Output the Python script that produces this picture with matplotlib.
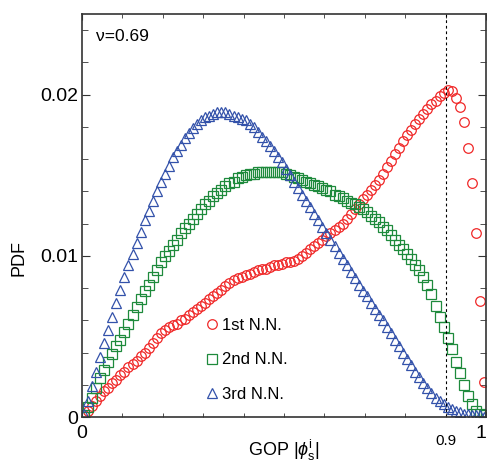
import matplotlib
matplotlib.use('Agg')
import matplotlib.pyplot as plt
import numpy as np
from matplotlib import rcParams

rcParams['font.family'] = ['Liberation Sans', 'DejaVu Sans']
rcParams['mathtext.fontset'] = 'custom'
rcParams['mathtext.rm'] = 'Liberation Sans'
rcParams['mathtext.it'] = 'Liberation Sans:italic'

# bin centres of the order-parameter histogram
gop = np.arange(100) * 0.01 + 0.005

pdf_1st = [
    0.0001, 0.0004, 0.0007, 0.0010, 0.0013, 0.0016, 0.0018, 0.0021, 0.0023, 0.0026,
    0.0028, 0.0031, 0.0033, 0.0035, 0.0038, 0.0040, 0.0043, 0.0046, 0.0049, 0.0052,
    0.0054, 0.0056, 0.0057, 0.0058, 0.0060, 0.0061, 0.0063, 0.0065, 0.0067, 0.0069,
    0.0071, 0.0073, 0.0075, 0.0077, 0.0079, 0.0081, 0.0083, 0.0085, 0.0086, 0.0087,
    0.0088, 0.0089, 0.0090, 0.0091, 0.0092, 0.0092, 0.0093, 0.0094, 0.0094, 0.0095,
    0.0096, 0.0096, 0.0097, 0.0098, 0.0100, 0.0102, 0.0104, 0.0106, 0.0108, 0.0110,
    0.0112, 0.0114, 0.0116, 0.0118, 0.0120, 0.0123, 0.0126, 0.0129, 0.0132, 0.0135,
    0.0138, 0.0141, 0.0144, 0.0147, 0.0151, 0.0155, 0.0159, 0.0163, 0.0167, 0.0171,
    0.0175, 0.0178, 0.0182, 0.0185, 0.0188, 0.0191, 0.0194, 0.0196, 0.0199, 0.0201,
    0.0203, 0.0202, 0.0198, 0.0192, 0.0183, 0.0167, 0.0145, 0.0114, 0.0072, 0.0022,
]

pdf_2nd = [
    0.0001, 0.0006, 0.0012, 0.0018, 0.0024, 0.0029, 0.0034, 0.0039, 0.0044, 0.0048,
    0.0053, 0.0058, 0.0063, 0.0068, 0.0073, 0.0078, 0.0082, 0.0087, 0.0091, 0.0096,
    0.0100, 0.0103, 0.0107, 0.0110, 0.0114, 0.0117, 0.0120, 0.0123, 0.0126, 0.0129,
    0.0132, 0.0134, 0.0137, 0.0139, 0.0141, 0.0143, 0.0145, 0.0146, 0.0148, 0.0149,
    0.0150, 0.0151, 0.0151, 0.0152, 0.0152, 0.0152, 0.0152, 0.0152, 0.0152, 0.0152,
    0.0151, 0.0150, 0.0149, 0.0148, 0.0147, 0.0146, 0.0145, 0.0144, 0.0143, 0.0142,
    0.0141, 0.0140, 0.0138, 0.0137, 0.0136, 0.0134, 0.0133, 0.0132, 0.0130, 0.0129,
    0.0127, 0.0125, 0.0123, 0.0121, 0.0118, 0.0116, 0.0113, 0.0110, 0.0107, 0.0104,
    0.0101, 0.0098, 0.0094, 0.0091, 0.0087, 0.0082, 0.0076, 0.0069, 0.0062, 0.0056,
    0.0049, 0.0042, 0.0034, 0.0027, 0.0020, 0.0013, 0.0008, 0.0004, 0.0002, 0.0001,
]

pdf_3rd = [
    0.0002, 0.0010, 0.0019, 0.0028, 0.0037, 0.0046, 0.0054, 0.0062, 0.0071, 0.0079,
    0.0087, 0.0094, 0.0101, 0.0108, 0.0115, 0.0122, 0.0128, 0.0134, 0.0140, 0.0146,
    0.0151, 0.0156, 0.0161, 0.0165, 0.0169, 0.0173, 0.0176, 0.0179, 0.0182, 0.0184,
    0.0186, 0.0187, 0.0188, 0.0189, 0.0189, 0.0189, 0.0188, 0.0187, 0.0186, 0.0185,
    0.0184, 0.0182, 0.0180, 0.0177, 0.0174, 0.0171, 0.0168, 0.0165, 0.0161, 0.0158,
    0.0154, 0.0150, 0.0146, 0.0142, 0.0138, 0.0134, 0.0130, 0.0126, 0.0122, 0.0118,
    0.0114, 0.0110, 0.0106, 0.0102, 0.0098, 0.0094, 0.0090, 0.0086, 0.0082, 0.0078,
    0.0075, 0.0071, 0.0067, 0.0063, 0.0060, 0.0056, 0.0052, 0.0048, 0.0044, 0.0040,
    0.0036, 0.0032, 0.0028, 0.0025, 0.0021, 0.0018, 0.0015, 0.0012, 0.0010, 0.0008,
    0.0006, 0.0005, 0.0004, 0.0003, 0.0002, 0.0002, 0.0001, 0.0001, 0.0001, 0.0000,
]

labels = ['1st N.N.', '2nd N.N.', '3rd N.N.']
markers = ['o', 's', '^']
colors = ['#f02828', '#1e8a3c', '#3352aa']

fig = plt.figure(figsize=(4.87, 4.62), dpi=100)
ax = fig.add_axes([82 / 487, 45 / 462, 404 / 487, 403 / 462])

for y, lab, m, c in zip([pdf_1st, pdf_2nd, pdf_3rd], labels, markers, colors):
    ax.plot(gop, y, linestyle='none', marker=m, markersize=6.9,
            markerfacecolor='none', markeredgecolor=c, markeredgewidth=0.9,
            label=lab)

ax.axvline(0.9, color='black', linestyle=(0, (2.5, 2.5)), linewidth=0.8)

ax.set_xlim(0, 1)
ax.set_ylim(0, 0.025)

ax.set_xticks([0, 1])
ax.set_xticklabels(['0', '1'], fontsize=14)
ax.get_xticklabels()[1].set_horizontalalignment('right')
ax.set_xticks(np.arange(0.1, 0.95, 0.1), minor=True)
ax.set_yticks([0, 0.01, 0.02])
ax.set_yticklabels(['0', '0.01', '0.02'], fontsize=14)
ax.set_yticks(np.arange(0.002, 0.025, 0.002), minor=True)
ax.tick_params(which='both', direction='in', top=True, right=True, color='#333333')
ax.tick_params(axis='y', which='major', length=6, pad=3)
ax.tick_params(axis='y', which='minor', length=4)
ax.tick_params(axis='x', which='major', length=4, pad=6)
ax.tick_params(axis='x', which='minor', length=3)
ax.text(0.9, -0.06, '0.9', transform=ax.get_xaxis_transform(),
        ha='center', va='center', fontsize=11)

for s in ax.spines.values():
    s.set_color('#333333')
    s.set_linewidth(1.2)

ax.set_xlabel(r'GOP $|\phi_{\rm s}^{\rm i}|$', fontsize=13)
ax.xaxis.set_label_coords(0.5, -0.052)
ax.set_ylabel('PDF', fontsize=13)
ax.yaxis.set_label_coords(-0.134, 0.395)

ax.text(0.035, 0.943, 'ν=0.69', transform=ax.transAxes,
        ha='left', va='center', fontsize=12.5)

ax.legend(loc='upper left', bbox_to_anchor=(0.305, 0.245), frameon=False,
          fontsize=12, numpoints=1, handlelength=0.8, handletextpad=0.2,
          labelspacing=1.15, borderpad=0, borderaxespad=0)

fig.savefig('out.png', dpi=100)
